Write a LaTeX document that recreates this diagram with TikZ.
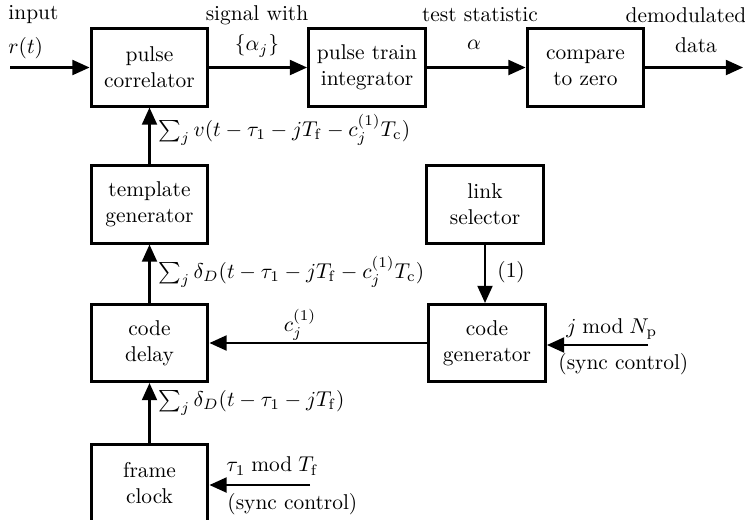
\documentclass[tikz,border=0pt]{standalone}
\usetikzlibrary{arrows.meta}
\begin{document}
\begin{tikzpicture}[x=0.467pt,y=-0.467pt,
  blk/.style={draw, line width=1.4pt, minimum width=54.6pt, minimum height=36pt, align=center, inner sep=0pt},
  arr/.style={line width=0.95pt, -{Triangle[length=8pt,width=7pt]}},
  lbl/.style={inner sep=0pt}]
\useasboundingbox (0,0) rectangle (745,519);
% blocks
\node[blk] (pc) at (149.5,67.5) {pulse\\correlator};
\node[blk] (pti) at (367,67.5) {pulse train\\integrator};
\node[blk] (cz) at (585.5,67.5) {compare\\to zero};
\node[blk] (tg) at (149.5,204.5) {template\\generator};
\node[blk] (ls) at (485,204.5) {link\\selector};
\node[blk] (cd) at (149.5,343) {code\\delay};
\node[blk] (cg) at (487,343) {code\\generator};
\node[blk] (fc) at (149.5,483) {frame\\clock};
% free ends
\coordinate (in) at (10,67.5);
\coordinate (out) at (743,67.5);
\coordinate (sc1) at (648,345);
\coordinate (sc2) at (310,485);
% connectors
\draw[arr] (in) -- (pc);
\draw[arr] (pc) -- (pti);
\draw[arr] (pti) -- (cz);
\draw[arr] (cz) -- (out);
\draw[arr] (tg) -- (pc);
\draw[arr] (cd) -- (tg);
\draw[arr] (fc) -- (cd);
\draw[arr] (ls) -- (ls.south |- cg.north);
\draw[arr] (cg) -- (cd);
\draw[arr] (sc1) -- (sc1 -| cg.east);
\draw[arr] (sc2) -- (sc2 -| fc.east);
% labels
\node[lbl, anchor=west] (l1) at (8,15) {input};
\node[lbl, anchor=west] (l2) at (8,48) {$r(t)$};
\node[lbl] (l3) at (257,15) {signal with};
\node[lbl] (l4) at (257,46) {$\{\alpha_j\}$};
\node[lbl] (l5) at (480,15) {test statistic};
\node[lbl] (l6) at (474,45) {$\alpha$};
\node[lbl] (l7) at (686,15) {demodulated};
\node[lbl] (l8) at (696,45) {data};
\node[lbl, anchor=west] (l9) at (158,130) {$\sum_j v(t-\tau_1-jT_{\mathrm f}-c_j^{(1)}T_{\mathrm c})$};
\node[lbl, anchor=west] (l10) at (158,272) {$\sum_j \delta_D(t-\tau_1-jT_{\mathrm f}-c_j^{(1)}T_{\mathrm c})$};
\node[lbl, anchor=west] (l11) at (497,272) {(1)};
\node[lbl] (l12) at (300,325) {$c_j^{(1)}$};
\node[lbl, anchor=west] (l13) at (566,329) {$j \bmod N_{\mathrm p}$};
\node[lbl, anchor=west] (l14) at (558,364) {(sync control)};
\node[lbl, anchor=west] (l15) at (158,403) {$\sum_j \delta_D(t-\tau_1-jT_{\mathrm f})$};
\node[lbl, anchor=west] (l16) at (226,466) {$\tau_1 \bmod T_{\mathrm f}$};
\node[lbl, anchor=west] (l17) at (227,504) {(sync control)};
\end{tikzpicture}
\end{document}
